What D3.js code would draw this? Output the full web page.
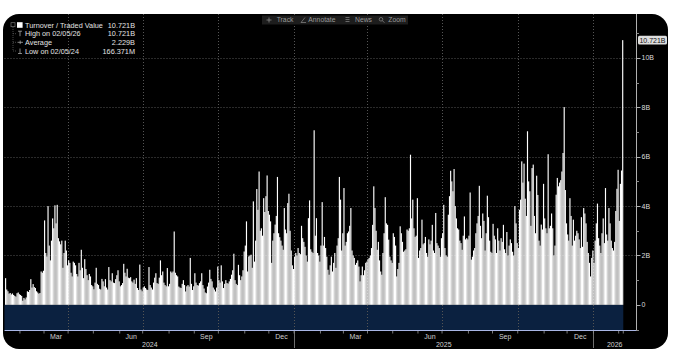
<!DOCTYPE html>
<html><head><meta charset="utf-8">
<script src="https://cdn.jsdelivr.net/npm/d3@7"></script>
<style>html,body{margin:0;padding:0;background:#fff;} svg{display:block;font-family:"Liberation Sans",Arial,sans-serif;}</style>
</head><body><svg id="c" width="680" height="361"></svg>
<script>
// ---------- DATA ----------
const startDate = "2024-01-15";
const endDate = "2026-02-05";
// Daily turnover / traded value, in billions
const turnover = [
1.08,0.62,0.55,0.45,0.48,0.42,0.46,0.40,0.36,0.33,
0.47,0.50,0.43,0.40,0.36,0.166,0.28,0.22,0.30,0.55,
0.52,0.60,1.04,0.70,0.84,0.72,0.68,0.55,0.50,0.45,
0.48,1.35,1.30,1.38,3.42,2.10,1.96,4.00,2.40,1.80,
2.60,3.50,3.10,4.03,3.30,4.05,2.70,2.57,2.45,2.60,
1.50,2.10,2.60,2.20,1.60,1.80,1.70,1.30,1.15,1.75,
1.70,1.60,1.25,1.15,1.70,1.40,2.23,1.50,1.08,1.85,
1.45,1.20,1.00,1.25,1.15,0.80,0.75,0.63,0.90,1.50,
0.85,0.80,0.65,0.62,1.05,0.95,0.75,1.04,0.70,0.62,
1.53,1.00,0.95,1.28,0.90,0.88,1.04,1.20,1.40,0.95,
0.75,0.80,0.88,1.66,1.30,1.15,1.46,1.10,1.08,1.12,
0.95,0.90,1.02,0.85,1.08,0.68,0.60,1.63,0.62,0.55,
0.70,0.75,0.68,0.62,0.60,1.53,0.80,0.70,0.62,0.90,
1.10,1.28,0.88,0.85,1.10,1.80,1.20,1.35,0.90,0.80,
0.75,1.49,0.75,0.85,
1.35,1.30,1.35,2.97,1.30,1.20,1.15,0.74,0.70,0.68,
0.85,1.00,0.80,0.54,0.75,0.80,0.74,1.90,0.85,0.60,
0.75,1.28,0.90,0.80,0.78,0.88,0.95,1.28,0.80,0.66,
0.50,0.47,0.74,0.90,1.42,1.05,0.95,0.70,0.62,0.54,
0.70,1.55,1.00,0.90,1.60,0.95,0.68,0.85,1.00,0.88,
0.86,0.95,1.05,1.22,1.40,2.07,1.00,0.85,0.80,1.62,
1.20,1.00,1.15,1.40,2.16,2.40,3.38,1.35,1.96,2.00,
2.03,1.50,4.19,1.75,2.60,4.69,3.85,5.40,3.00,3.10,
2.80,4.32,3.76,4.40,5.24,3.80,3.65,3.38,1.70,2.60,
2.90,3.25,3.60,5.18,2.90,2.74,2.60,2.40,2.23,3.92,
3.05,2.90,4.12,4.50,3.00,2.20,1.60,1.45,1.95,2.10,
2.00,2.30,2.10,2.05,3.20,2.70,2.55,2.35,2.00,1.75,
3.51,4.23,2.25,2.15,2.10,7.07,2.80,3.51,2.10,2.00,
1.75,2.40,4.16,2.40,2.75,2.30,1.95,1.42,1.22,1.60,
1.95,1.35,1.70,2.10,1.50,2.40,2.70,5.18,
4.26,2.20,2.90,4.73,2.40,2.55,2.90,2.97,3.20,3.92,
2.20,2.00,1.90,1.62,1.70,1.80,1.55,0.95,1.20,1.55,
1.20,1.40,1.70,1.75,1.85,1.90,2.00,2.30,3.24,4.80,
3.92,3.00,2.23,2.55,1.80,1.35,1.22,2.10,2.90,4.36,
3.30,3.24,2.64,1.95,1.80,1.70,2.90,2.75,2.40,1.15,
1.45,1.70,3.18,2.90,2.55,2.15,2.20,2.25,3.05,3.00,
3.10,6.08,3.50,4.26,3.10,2.75,2.80,4.32,1.90,2.20,
2.30,3.45,2.45,2.50,2.75,2.10,1.95,2.65,2.45,2.60,
3.24,2.20,2.10,3.72,2.50,2.40,2.30,1.95,2.70,2.90,
4.05,2.30,2.00,1.95,3.65,4.40,5.43,5.00,4.60,5.50,
4.00,3.50,3.10,3.05,2.60,2.50,2.23,2.80,3.58,2.65,
2.70,2.65,2.80,4.55,1.83,1.95,2.20,2.30,2.90,3.30,
3.60,4.82,3.20,2.70,3.70,3.40,2.20,2.90,4.42,3.55,
2.60,2.15,2.10,3.28,2.80,2.65,2.10,3.10,2.60,2.20,
2.70,2.55,3.24,2.25,2.10,2.95,2.00,2.40,2.65,2.50,
2.15,2.00,4.00,3.30,2.50,2.30,3.85,4.26,5.81,4.95,
5.72,4.30,3.60,7.03,5.00,4.60,3.20,5.54,5.68,3.60,
2.90,5.23,4.45,2.60,2.40,3.25,3.05,4.90,3.50,3.10,
2.90,6.10,3.10,3.20,3.70,3.10,2.00,2.40,4.46,5.14,
4.80,4.95,5.05,5.40,6.15,8.01,4.65,3.30,2.85,2.60,
4.32,3.60,2.40,3.45,2.60,2.80,3.00,2.90,2.65,2.30,
3.55,2.35,3.92,3.70,3.30,2.55,2.10,1.70,1.15,1.90,
2.20,1.70,2.60,3.30,4.10,2.70,2.40,2.10,2.90,3.50,
2.50,4.73,2.85,2.60,3.92,3.30,2.60,2.30,2.20,2.55,
3.80,4.70,5.47,3.40,4.90,5.44,10.721
];
const yTicks = [0, 2, 4, 6, 8, 10];
const yTickLabels = ["0", "2B", "4B", "6B", "8B", "10B"];
const yMinorTicks = [-1, 1, 3, 5, 7, 9, 11];
const monthLabelDates = ["2024-03-01","2024-06-01","2024-09-01","2024-12-01","2025-03-01","2025-06-01","2025-09-01","2025-12-01"];
const yearLabels = ["2024", "2025", "2026"];
const legendNames = ["Turnover / Traded Value", "High on 02/05/26", "Average", "Low on 02/05/24"];
const legendValues = ["10.721B", "10.721B", "2.229B", "166.371M"];
const toolbarItems = ["Track", "Annotate", "News", "Zoom"];
const lastValueLabel = "10.721B";

// ---------- LAYOUT ----------
const svg = d3.select("#c");
const parse = d3.timeParse("%Y-%m-%d");
const dates = d3.timeDay.range(parse(startDate), d3.timeDay.offset(parse(endDate), 1))
  .filter(d => d.getDay() !== 0 && d.getDay() !== 6);
const n = Math.min(dates.length, turnover.length);
const data = d3.range(n).map(i => ({date: dates[i], v: turnover[i], i}));

const plotL = 4.5, plotR = 636, plotT = 14, plotB = 330;
const x = d3.scaleLinear().domain([0, n - 1]).range([5.6, 622.7]);
const step = x(1) - x(0);
const y = d3.scaleLinear().domain([-1.02, 11.78]).range([plotB, plotT]);

// background card
svg.append("rect").attr("x", 3).attr("y", 14).attr("width", 665).attr("height", 335)
  .attr("rx", 16).attr("fill", "#000");

// navy region below zero
svg.append("rect").attr("x", plotL).attr("y", y(0)).attr("width", x(n - 1) + step / 2 - plotL)
  .attr("height", plotB - y(0)).attr("fill", "#0b2140");

// month boundaries
const boundaryX = d => x(d3.bisectLeft(dates, d)) - step / 2;
const monthStarts = d3.timeMonth.range(d3.timeMonth.ceil(dates[0]), d3.timeMonth.offset(dates[n - 1], 1));

// horizontal grid
svg.append("g").selectAll("line").data(yTicks.filter(t => t > 0)).join("line")
  .attr("x1", plotL).attr("x2", plotR).attr("y1", d => Math.round(y(d)) + 0.5).attr("y2", d => Math.round(y(d)) + 0.5)
  .attr("stroke", "#555").attr("stroke-width", 1).attr("stroke-dasharray", "1,2");

// vertical grid at quarter starts
svg.append("g").selectAll("line").data(monthStarts.filter(d => d.getMonth() % 3 === 0)).join("line")
  .attr("x1", d => Math.round(boundaryX(d)) + 0.5).attr("x2", d => Math.round(boundaryX(d)) + 0.5)
  .attr("y1", plotT).attr("y2", plotB)
  .attr("stroke", "#555").attr("stroke-width", 1).attr("stroke-dasharray", "1,2");

// bars
svg.append("g").selectAll("rect").data(data).join("rect")
  .attr("x", d => x(d.i) - step / 2)
  .attr("width", step)
  .attr("y", d => y(d.v))
  .attr("height", d => y(0) - y(d.v))
  .attr("fill", "#ffffff");

// bottom axis line
svg.append("line").attr("x1", plotL).attr("x2", plotR).attr("y1", plotB + 0.5).attr("y2", plotB + 0.5)
  .attr("stroke", "#a9b6e6").attr("stroke-width", 1);

// month ticks
svg.append("g").selectAll("line").data(monthStarts).join("line")
  .attr("x1", d => boundaryX(d)).attr("x2", d => boundaryX(d))
  .attr("y1", plotB + 1).attr("y2", plotB + 3.5)
  .attr("stroke", "#9a9a9a").attr("stroke-width", 0.8);

// month labels (centered on month)
svg.append("g").selectAll("text").data(monthLabelDates.map(parse)).join("text")
  .attr("x", d => (boundaryX(d) + boundaryX(d3.timeMonth.offset(d, 1))) / 2)
  .attr("y", 338.5).attr("text-anchor", "middle")
  .attr("font-size", 7).attr("fill", "#d0d0d0")
  .text(d => d3.timeFormat("%b")(d));

// year separators and labels
const yearBounds = [plotL + 1, boundaryX(new Date(2025, 0, 1)), boundaryX(new Date(2026, 0, 1)), plotR];
svg.append("g").selectAll("line").data(yearBounds.slice(1, 3)).join("line")
  .attr("x1", d => Math.round(d) + 0.5).attr("x2", d => Math.round(d) + 0.5)
  .attr("y1", plotB + 1).attr("y2", 348)
  .attr("stroke", "#8a8a8a").attr("stroke-width", 0.8);
svg.append("g").selectAll("text").data(yearLabels).join("text")
  .attr("x", (d, i) => (yearBounds[i] + yearBounds[i + 1]) / 2)
  .attr("y", 346.5).attr("text-anchor", "middle")
  .attr("font-size", 7).attr("fill", "#d0d0d0").text(d => d);

// right axis
const yAxis = svg.append("g");
yAxis.append("line").attr("x1", plotR + 0.5).attr("x2", plotR + 0.5).attr("y1", plotT).attr("y2", plotB + 1)
  .attr("stroke", "#b0b0b0").attr("stroke-width", 1);
yAxis.selectAll(".maj").data(yTicks).join("line").attr("class", "maj")
  .attr("x1", plotR + 0.5).attr("x2", plotR + 4.5).attr("y1", d => Math.round(y(d)) + 0.5).attr("y2", d => Math.round(y(d)) + 0.5)
  .attr("stroke", "#b0b0b0");
yAxis.selectAll(".min").data(yMinorTicks).join("line").attr("class", "min")
  .attr("x1", plotR + 0.5).attr("x2", plotR + 3).attr("y1", d => Math.round(y(d)) + 0.5).attr("y2", d => Math.round(y(d)) + 0.5)
  .attr("stroke", "#8a8a8a");
yAxis.selectAll("text").data(yTicks).join("text")
  .attr("x", plotR + 5.5).attr("y", d => y(d)).attr("dy", "0.35em")
  .attr("font-size", 7).attr("fill", "#dcdcdc")
  .text((d, i) => yTickLabels[i]);

// last value label
const lastY = y(turnover[n - 1]);
svg.append("rect").attr("x", plotR + 2).attr("y", lastY - 4.3).attr("width", 29).attr("height", 8.6)
  .attr("rx", 1.5).attr("fill", "#dedede");
svg.append("text").attr("x", plotR + 16.5).attr("y", lastY).attr("dy", "0.35em").attr("text-anchor", "middle")
  .attr("font-size", 7).attr("fill", "#111").text(lastValueLabel);

// legend
const lg = svg.append("g");
const rowY = [25, 33.7, 42.3, 51];
lg.append("rect").attr("x", 11).attr("y", 22.7).attr("width", 4).attr("height", 4)
  .attr("fill", "none").attr("stroke", "#777").attr("stroke-width", 0.7);
lg.append("line").attr("x1", 13).attr("x2", 13).attr("y1", 27).attr("y2", rowY[3])
  .attr("stroke", "#666").attr("stroke-width", 0.7).attr("stroke-dasharray", "1,1");
lg.selectAll(".conn").data(rowY.slice(1)).join("line").attr("class", "conn")
  .attr("x1", 13).attr("x2", 17).attr("y1", d => d).attr("y2", d => d)
  .attr("stroke", "#666").attr("stroke-width", 0.7).attr("stroke-dasharray", "1,1");
lg.append("rect").attr("x", 17).attr("y", rowY[0] - 2.8).attr("width", 5.6).attr("height", 5.6).attr("fill", "#fff");
lg.append("path").attr("d", `M18,${rowY[1] - 2.5}H22M20,${rowY[1] - 2.5}V${rowY[1] + 2.5}`)
  .attr("stroke", "#bbb").attr("stroke-width", 0.7).attr("fill", "none");
lg.append("path").attr("d", `M17.5,${rowY[2]}H23M20.2,${rowY[2] - 1.8}V${rowY[2] + 1.8}`)
  .attr("stroke", "#bbb").attr("stroke-width", 0.7).attr("fill", "none");
lg.append("path").attr("d", `M20,${rowY[3] - 2.5}V${rowY[3] + 2.5}M18,${rowY[3] + 2.5}H22`)
  .attr("stroke", "#bbb").attr("stroke-width", 0.7).attr("fill", "none");
lg.selectAll(".nm").data(legendNames).join("text").attr("class", "nm")
  .attr("x", 25).attr("y", (d, i) => rowY[i]).attr("dy", "0.35em")
  .attr("font-size", 7.3).attr("fill", "#e2e2e2").text(d => d);
lg.selectAll(".vl").data(legendValues).join("text").attr("class", "vl")
  .attr("x", 135).attr("y", (d, i) => rowY[i]).attr("dy", "0.35em").attr("text-anchor", "end")
  .attr("font-size", 7.3).attr("fill", "#e2e2e2").text(d => d);

// toolbar
const tb = svg.append("g");
tb.append("rect").attr("x", 262).attr("y", 15.5).attr("width", 146).attr("height", 9).attr("fill", "#1d1d1d");
const tbText = [276.7, 308.3, 355, 388.3];
tb.selectAll("text").data(toolbarItems).join("text")
  .attr("x", (d, i) => tbText[i]).attr("y", 20).attr("dy", "0.35em")
  .attr("font-size", 6.8).attr("fill", "#9a9a9a").text(d => d);
tb.append("path").attr("d", "M266.5,20H271.5M269,17.5V22.5").attr("stroke", "#8a8a8a").attr("stroke-width", 0.8);
tb.append("path").attr("d", "M301,22.5H306M301,22.5L305,17.5").attr("stroke", "#8a8a8a").attr("stroke-width", 0.7).attr("fill", "none");
tb.append("path").attr("d", "M345.5,17.5H349.5M345.5,19.5H349.5M345.5,21.5H349.5").attr("stroke", "#8a8a8a").attr("stroke-width", 0.7);
tb.append("circle").attr("cx", 381).attr("cy", 19.3).attr("r", 1.8).attr("fill", "none").attr("stroke", "#8a8a8a").attr("stroke-width", 0.7);
tb.append("path").attr("d", "M382.3,20.6L384.3,22.6").attr("stroke", "#8a8a8a").attr("stroke-width", 0.8);
</script></body></html>
